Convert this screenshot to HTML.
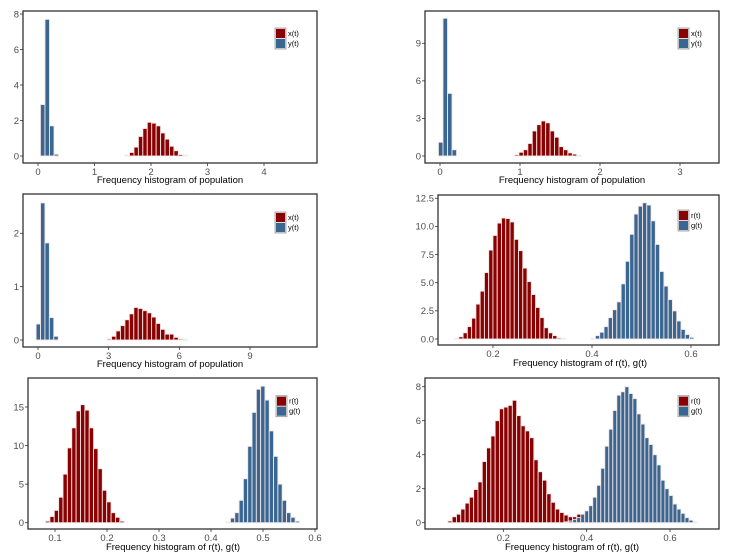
<!DOCTYPE html>
<html><head><meta charset="utf-8"><style>
html,body{margin:0;padding:0;background:#fff;width:732px;height:557px;overflow:hidden}
svg{display:block;font-family:"Liberation Sans",sans-serif}
</style></head><body>
<svg id="s" width="732" height="557" viewBox="0 0 732 557" xmlns="http://www.w3.org/2000/svg"></svg>
<script>
var RED="#8b0000",BLUE="#3a6791";
var P=[
{box:[23,11,317,163],x0:[0,38],x1:[4,264],y0:[0,156],y1:[8,14],xt:[0,1,2,3,4],yt:[0,2,4,6,8],
 series:[[BLUE,42.7,56.3,[2.9,7.7,1.7,0.1]],[RED,127.3,185,[0.05,0.2,0.5,1.1,1.55,1.9,1.85,1.7,1.3,0.95,0.55,0.3,0.08,0.03]]],
 leg:[276,33,"x(t)","y(t)"],lab:["Frequency histogram of population",170,183],dec:0},
{box:[425,11,719,163],x0:[0,440],x1:[3,680],y0:[0,156],y1:[9,43.3],xt:[0,1,2,3],yt:[0,3,6,9],
 series:[[BLUE,440.7,454.3,[1.1,11,5,0.5]],[RED,516.7,579,[0.1,0.3,0.5,1.0,2.0,2.5,2.8,2.65,2.0,1.5,0.75,0.5,0.25,0.15,0.05]]],
 leg:[679,33,"x(t)","y(t)"],lab:["Frequency histogram of population",572,183],dec:0},
{box:[23,194,317,347],x0:[0,38],x1:[9,250],y0:[0,340],y1:[2,233.3],xt:[0,3,6,9],yt:[0,1,2],
 series:[[BLUE,38.3,56,[0.3,2.57,1.82,0.42,0.07]],[RED,109.3,185,[0.02,0.07,0.17,0.27,0.38,0.49,0.61,0.59,0.55,0.51,0.43,0.31,0.2,0.11,0.11,0.05,0.02,0.01]]],
 leg:[276,217,"x(t)","y(t)"],lab:["Frequency histogram of population",170,367],dec:0},
{box:[438,195,719,345],x0:[0.2,493],x1:[0.6,691],y0:[0,339],y1:[12.5,198.3],xt:[0.2,0.4,0.6],yt:[0,2.5,5,7.5,10,12.5],
 series:[[RED,456.7,563.3,[0.05,0.2,0.55,1.1,1.85,3.1,4.25,5.9,7.9,9.2,10.3,10.75,10.7,10.4,8.85,7.85,6.3,5.1,3.95,2.8,1.9,1.0,0.55,0.3,0.1,0.05]],
 [BLUE,593.3,691.7,[0.05,0.3,0.6,1.1,1.9,2.6,3.3,4.9,6.9,9.3,11.1,11.8,12.1,11.9,10.5,8.4,6.0,4.7,3.5,2.5,1.6,0.85,0.4,0.15]]],
 leg:[679,215,"r(t)","g(t)"],lab:["Frequency histogram of r(t), g(t)",580,366],dec:1,ydec:1},
{box:[28,378,317,529],x0:[0.1,55],x1:[0.6,315],y0:[0,522.7],y1:[15,407],xt:[0.1,0.2,0.3,0.4,0.5,0.6],yt:[0,5,10,15],
 series:[[RED,47.7,122,[0.2,0.8,1.6,3.3,6.3,9.7,12.3,14.5,15.3,14.6,12.3,9.6,7.0,4.2,2.7,1.3,0.7,0.2]],
 [BLUE,228.3,297.3,[0.1,0.6,1.3,2.9,5.7,9.9,14.3,17.3,17.7,15.9,11.9,8.6,5.0,2.9,1.3,0.7,0.2]]],
 leg:[277,400.7,"r(t)","g(t)"],lab:["Frequency histogram of r(t), g(t)",173,550],dec:1},
{box:[425,378,719,529],x0:[0.2,503.3],x1:[0.6,670],y0:[0,522.7],y1:[8,386.7],xt:[0.2,0.4,0.6],yt:[0,2,4,6,8],
 series:[[RED,450,579,[0.1,0.35,0.5,0.8,1.15,1.5,1.95,2.4,3.6,4.4,5.1,6.0,6.7,6.8,6.9,7.2,6.3,5.7,5.4,5.0,3.7,3.0,2.5,1.7,1.2,0.8,0.6,0.45,0.35,0.35,0.5]],
 [BLUE,566.7,695,[0.05,0.1,0.2,0.3,0.5,0.7,1.0,1.5,2.2,3.2,4.5,5.5,6.6,7.5,7.7,8.0,7.6,7.3,6.4,5.8,5.0,4.6,4.0,3.4,2.5,2.0,1.6,1.1,0.8,0.55,0.3,0.15,0.05]]],
 leg:[679,400.7,"r(t)","g(t)"],lab:["Frequency histogram of r(t), g(t)",572,550],dec:1}
];
var o="";
P.forEach(function(p){
 var b=p.box;
 function X(v){return p.x0[1]+(v-p.x0[0])*(p.x1[1]-p.x0[1])/(p.x1[0]-p.x0[0]);}
 function Y(v){return p.y0[1]+(v-p.y0[0])*(p.y1[1]-p.y0[1])/(p.y1[0]-p.y0[0]);}
 o+='<rect x="'+b[0]+'" y="'+b[1]+'" width="'+(b[2]-b[0])+'" height="'+(b[3]-b[1])+'" fill="#fff" stroke="#333" stroke-width="1.3"/>';
 p.series.forEach(function(s){
  var n=s[3].length, st=n>1?(s[2]-s[1])/(n-1):4.5, w=st;
  s[3].forEach(function(h,i){
   var c=s[1]+i*st, yt=Y(h), y0=p.y0[1];
   o+='<rect x="'+(c-w/2).toFixed(2)+'" y="'+yt.toFixed(2)+'" width="'+w.toFixed(2)+'" height="'+Math.max(0.6,y0-yt).toFixed(2)+'" fill="'+s[0]+'" stroke="#f2e6e6" stroke-width="0.9"/>';
  });
 });
 p.xt.forEach(function(v){var x=X(v);
  o+='<line x1="'+x+'" y1="'+b[3]+'" x2="'+x+'" y2="'+(b[3]+3)+'" stroke="#333" stroke-width="0.8"/>';
  o+='<text x="'+x+'" y="'+(b[3]+12)+'" font-size="9.5" fill="#4d4d4d" text-anchor="middle">'+(p.dec?v.toFixed(1):v)+'</text>';});
 p.yt.forEach(function(v){var y=Y(v);
  o+='<line x1="'+(b[0]-3)+'" y1="'+y+'" x2="'+b[0]+'" y2="'+y+'" stroke="#333" stroke-width="0.8"/>';
  o+='<text x="'+(b[0]-4)+'" y="'+(y+3.3)+'" font-size="9.5" fill="#4d4d4d" text-anchor="end">'+(p.ydec?v.toFixed(1):v)+'</text>';});
 var L=p.leg;
 o+='<rect x="'+(L[0]-1)+'" y="'+(L[1]-5)+'" width="'+11+'" height="'+21+'" fill="#ddd" stroke="#999" stroke-width="0.8"/>';
 o+='<rect x="'+L[0]+'" y="'+(L[1]-4)+'" width="9" height="9" fill="'+RED+'"/>';
 o+='<rect x="'+L[0]+'" y="'+(L[1]+6)+'" width="9" height="9" fill="'+BLUE+'"/>';
 o+='<text x="'+(L[0]+12)+'" y="'+(L[1]+3)+'" font-size="7.5" fill="#000">'+L[2]+'</text>';
 o+='<text x="'+(L[0]+12)+'" y="'+(L[1]+13)+'" font-size="7.5" fill="#000">'+L[3]+'</text>';
 o+='<text x="'+p.lab[1]+'" y="'+p.lab[2]+'" font-size="9.5" fill="#000" text-anchor="middle">'+p.lab[0]+'</text>';
});
document.getElementById("s").innerHTML=o;
</script>
</body></html>
